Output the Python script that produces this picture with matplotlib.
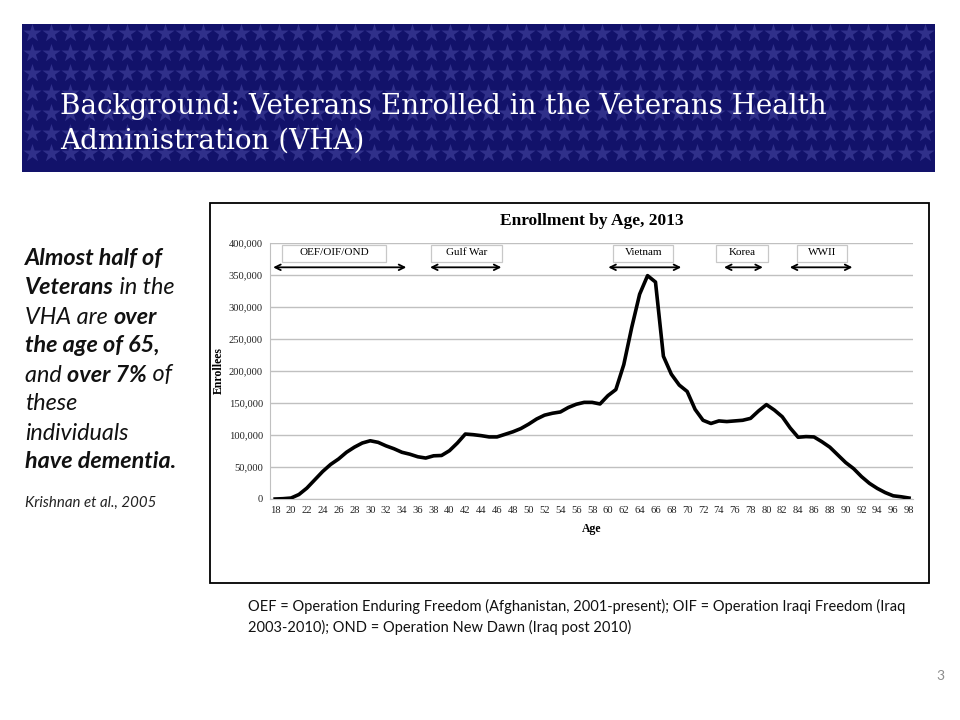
import matplotlib
matplotlib.use("Agg")
import matplotlib.pyplot as plt
from matplotlib.patches import Rectangle
from matplotlib.ticker import FuncFormatter, MultipleLocator

# Дані: кількість учасників за віком, 2013
ages = list(range(18, 99))
enrollees = [
    0, 500, 1500, 7000, 17000, 30000, 43000, 54000, 62500, 73000,      # 18-27
    81000, 87500, 91000, 88500, 83000, 78500, 73000, 70000, 66000, 64000,  # 28-37
    67500, 68000, 75500, 87500, 101500, 100500, 99000, 97000, 97000, 101000,  # 38-47
    105000, 110000, 117000, 125000, 131000, 134000, 136000, 143000, 148000, 151000,  # 48-57
    151000, 148500, 161500, 171000, 210000, 268000, 320000, 349000, 339000, 223000,  # 58-67
    195000, 178000, 168000, 140000, 123000, 118000, 122000, 121000, 122000, 123000,  # 68-77
    126000, 137500, 147500, 139000, 128500, 111000, 96500, 97500, 97000, 89500,  # 78-87
    81000, 69000, 57000, 47500, 35000, 24500, 16500, 10000, 5000, 3500,  # 88-97
    1500,  # 98
]

# Періоди війн: назва та діапазон віку (стрілки), межі підписів
eras = ["OEF/OIF/OND", "Gulf War", "Vietnam", "Korea", "WWII"]
era_start = [17.4, 37.2, 59.7, 74.3, 82.6]
era_end = [34.9, 46.9, 69.6, 79.9, 91.2]
box_left = [18.9, 37.7, 60.7, 73.7, 83.9]
box_right = [32.0, 46.6, 68.2, 80.2, 90.2]

title_lines = ["Background: Veterans Enrolled in the Veterans Health",
               "Administration (VHA)"]

# Рядки лівого тексту: (текст, жирний)
side_lines = [
    [("Almost half of", True)],
    [("Veterans", True), (" in the", False)],
    [("VHA are ", False), ("over", True)],
    [("the age of 65,", True)],
    [("and ", False), ("over 7%", True), (" of", False)],
    [("these", False)],
    [("individuals", False)],
    [("have dementia.", True)],
]

footnote = ("OEF = Operation Enduring Freedom (Afghanistan, 2001-present); OIF = Operation Iraqi Freedom (Iraq\n"
            "2003-2010); OND = Operation New Dawn (Iraq post 2010)")

fig = plt.figure(figsize=(9.6, 7.2), dpi=100)
fig.patch.set_facecolor("white")

# Фонові осі в пікселях
bg = fig.add_axes([0, 0, 1, 1])
bg.set_xlim(0, 960)
bg.set_ylim(720, 0)
bg.axis("off")

# Синій банер із зірками
bg.add_patch(Rectangle((22, 24), 913, 148, facecolor="#12126a", edgecolor="none", zorder=1))
sx, sy = [], []
for y in range(33, 172, 20):
    for x in range(32, 935, 19):
        sx.append(x)
        sy.append(y)
bg.scatter(sx, sy, marker="*", s=190, color="#30308a", linewidths=0, zorder=2)
bg.text(60, 106, title_lines[0], color="white", fontsize=20, family="DejaVu Serif",
        va="center", zorder=3)
bg.text(60, 141, title_lines[1], color="white", fontsize=20, family="DejaVu Serif",
        va="center", zorder=3)

# Лівий текст
fig.canvas.draw()
renderer = fig.canvas.get_renderer()
y = 259
for line in side_lines:
    x = 25
    for txt, bold in line:
        t = bg.text(x, y, txt, fontsize=16.8, family="Lato", style="italic",
                    fontweight="bold" if bold else "normal", va="center", color="#111111")
        w = t.get_window_extent(renderer).width
        x += w
    y += 29
bg.text(25, 503, "Krishnan et al., 2005", fontsize=10.8, family="Lato", style="italic",
        va="center", color="#222222")

bg.text(248, 617, footnote, fontsize=10.5, family="Lato", va="center", linespacing=1.55,
        color="#111111")
bg.text(940, 676, "3", fontsize=10, family="Lato", va="center", ha="center", color="#8c8c8c")

# Рамка діаграми
bg.add_patch(Rectangle((210, 203), 719, 380, facecolor="white", edgecolor="black", lw=1.3, zorder=1))

# Діаграма
ax = fig.add_axes([270 / 960, 1 - 499 / 720, (913 - 270) / 960, (499 - 243) / 720])
ax.set_facecolor("none")
ax.plot(ages, enrollees, color="black", lw=2.6, solid_joinstyle="round", zorder=3)
ax.set_xlim(17.35, 98.5)
ax.set_ylim(0, 400000)
ax.yaxis.set_major_locator(MultipleLocator(50000))
ax.yaxis.set_major_formatter(FuncFormatter(lambda v, p: f"{int(v):,}"))
ax.set_xticks(range(18, 99, 2))
ax.grid(axis="y", color="#c0c0c0", lw=1)
ax.set_axisbelow(True)
for s in ["top", "right"]:
    ax.spines[s].set_visible(False)
ax.spines["left"].set_color("#c0c0c0")
ax.spines["bottom"].set_color("#c0c0c0")
ax.tick_params(length=0, labelsize=7.6, colors="#222222", pad=5)
for lab in ax.get_xticklabels() + ax.get_yticklabels():
    lab.set_family("Liberation Serif")
ax.set_xlabel("Age", family="Liberation Serif", fontweight="bold", fontsize=8.5, labelpad=6)
ax.set_ylabel("Enrollees", family="Liberation Serif", fontweight="bold", fontsize=8.5)
ax.yaxis.set_label_coords(-0.07, 0.5)
ax.set_title("Enrollment by Age, 2013", family="Liberation Serif", fontweight="bold",
             fontsize=12.5, pad=13)

# Підписи періодів зі стрілками
for name, a, b, l, r in zip(eras, era_start, era_end, box_left, box_right):
    ax.annotate("", xy=(a, 362000), xytext=(b, 362000),
                arrowprops=dict(arrowstyle="<->", color="black", lw=1.3, mutation_scale=10),
                annotation_clip=False)
    ax.add_patch(Rectangle((l, 370000), r - l, 27000, facecolor="white",
                           edgecolor="#c8c8c8", lw=0.9, zorder=4))
    ax.text((l + r) / 2, 384500, name, ha="center", va="center", fontsize=8,
            family="Liberation Serif", zorder=5)

fig.savefig("out.png", dpi=100)
